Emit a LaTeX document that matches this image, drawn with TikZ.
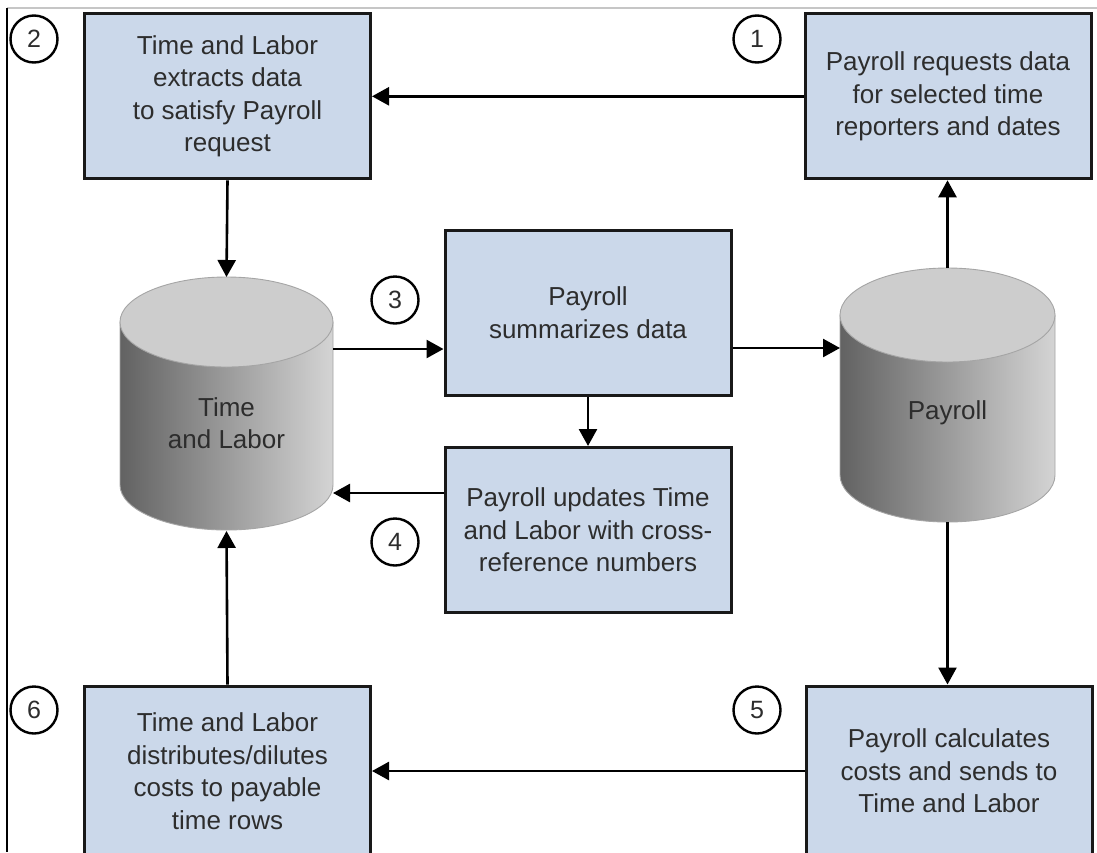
\documentclass[tikz,border=0pt]{standalone}
\usepackage{fontspec}
\setmainfont{Liberation Sans}
\usetikzlibrary{arrows.meta,calc}
\definecolor{boxfill}{RGB}{203,216,234}
\definecolor{txt}{RGB}{45,45,45}
\definecolor{cyltop}{RGB}{205,205,205}
\definecolor{cyldark}{RGB}{98,98,98}
\definecolor{cyllight}{RGB}{212,212,212}
\definecolor{cylline}{RGB}{165,165,165}
\tikzset{
 stepbox/.style={draw=black!90, line width=3pt, fill=boxfill, minimum width=286pt, minimum height=165pt, inner sep=0pt, align=center, text=txt, font=\fontsize{26}{32.5}\selectfont},
 numcirc/.style={circle, draw=black, line width=2.4pt, minimum size=47pt, inner sep=0pt, text=txt, font=\fontsize{25}{25}\selectfont},
 arr/.style={line width=2.6pt, -{Triangle[length=17pt,width=18pt]}},
 cylslot/.style={inner sep=0pt, outer sep=0pt, draw=none},
 cyltext/.style={align=center, text=txt, font=\fontsize{26}{32.5}\selectfont}
}
\newcommand{\dbcyl}[5]{%
 \shade[left color=cyldark, right color=cyllight, draw=cylline, line width=0.9pt] ({#1-#4},#2) -- ({#1-#4},#3) arc[start angle=180, end angle=0, x radius=#4, y radius=#5] -- ({#1+#4},#2) -- cycle;
 \draw[fill=cyltop, draw=cylline, line width=0.9pt] (#1,#2) ellipse[x radius=#4, y radius=#5];
}
\begin{document}
\begin{tikzpicture}[x=1pt,y=-1pt]
\useasboundingbox (0,0) rectangle (1097,852);
\clip (0,0) rectangle (1097,852);
\fill[white] (0,0) rectangle (1097,852);
% frame
\draw[gray!45, line width=1.2pt] (7,8) -- (1097,8);
\draw[black, line width=1.8pt] (7,8) -- (7,852);
% cylinders
\dbcyl{226.5}{322}{485}{106.5}{45}
\node[cylslot, minimum width=213pt, minimum height=254pt] (tl) at (226.5,404) {};
\node[cyltext] (tltext) at (226.5,423) {Time\\and Labor};
\dbcyl{947.5}{315}{475}{107.5}{47}
\node[cylslot, minimum width=215pt, minimum height=254pt] (pr) at (947.5,395) {};
\node[cyltext] (prtext) at (947.5,413) {Payroll};
% boxes
\node[stepbox] (b2) at (227.5,96.3) {Time and Labor\\extracts data\\to satisfy Payroll\\request};
\node[stepbox] (b1) at (948,96.3) {Payroll requests data\\for selected time\\reporters and dates};
\node[stepbox] (b3) at (588,312.5) {Payroll\\summarizes data};
\node[stepbox] (b4) at (588,530) {Payroll updates Time\\and Labor with cross-\\reference numbers};
\node[stepbox, minimum height=170pt] (b6) at (227.5,771) {Time and Labor\\distributes/dilutes\\costs to payable\\time rows};
\node[stepbox, minimum height=170pt] (b5) at (949,771) {Payroll calculates\\costs and sends to\\Time and Labor};
% circles
\node[numcirc] (n1) at (757,39) {1};
\node[numcirc] (n2) at (34,39) {2};
\node[numcirc] (n3) at (395,300) {3};
\node[numcirc] (n4) at (395,542) {4};
\node[numcirc] (n5) at (757,710) {5};
\node[numcirc] (n6) at (34,710) {6};
% connectors
\coordinate (in3) at ([yshift=-36.5pt]b3.west);
\coordinate (out3) at ([yshift=-35.5pt]b3.east);
\coordinate (out4) at ([yshift=37pt]b4.west);
\draw[arr] (b1.west) -- (b2.east);
\draw[arr] (b2.south) -- (tl.north);
\draw[arr] (tl.east |- in3) -- (in3);
\draw[arr] (out3) -- (pr.west |- out3);
\draw[arr] (b3.south) -- (b4.north);
\draw[arr] (out4) -- (tl.east |- out4);
\draw[arr] (pr.north) -- (pr.north |- b1.south);
\draw[arr] (pr.south) -- (pr.south |- b5.north);
\draw[arr] (b5.west) -- (b6.east);
\draw[arr] (b6.north) -- (tl.south);
\end{tikzpicture}
\end{document}
